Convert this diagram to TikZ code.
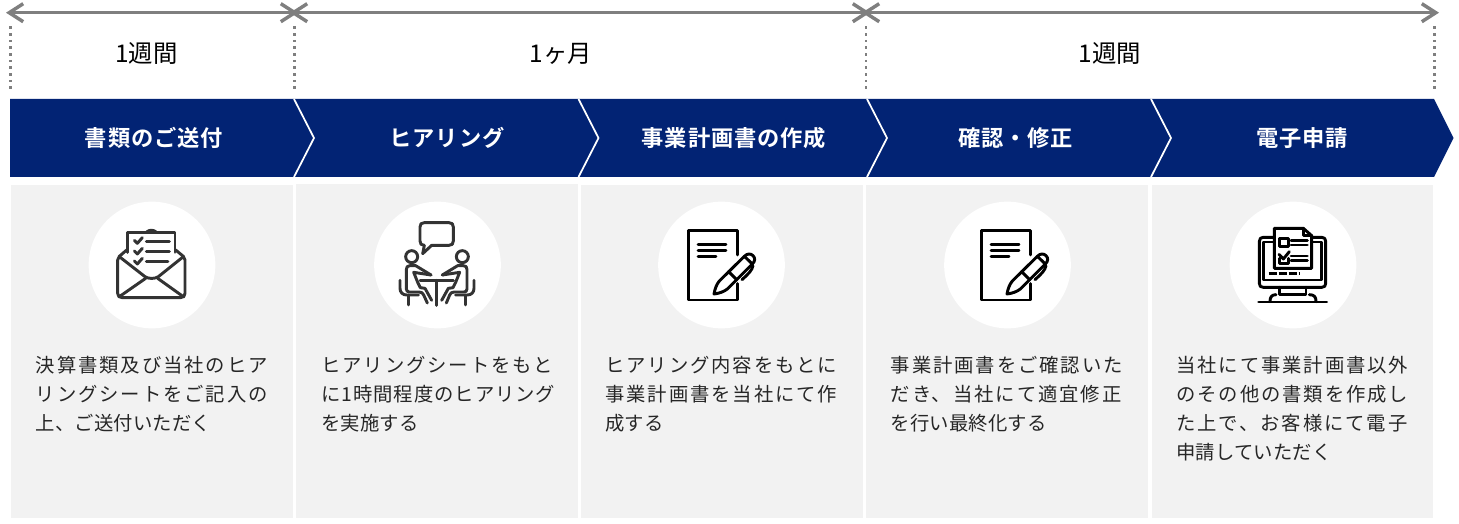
\documentclass[tikz,border=0pt]{standalone}
\usepackage{fontspec}
\usetikzlibrary{arrows.meta}
\setmainfont{Noto Sans CJK JP}
\newfontfamily\jpbody[LetterSpace=10]{Noto Sans CJK JP}
\newfontfamily\jptight[LetterSpace=5]{Noto Sans CJK JP}
\newfontfamily\jpplain[LetterSpace=1]{Noto Sans CJK JP}
\newfontfamily\jphead[LetterSpace=4]{Noto Sans CJK JP Bold}
\newfontfamily\jplabel{Noto Sans CJK JP}
\definecolor{navy}{HTML}{022374}
\definecolor{panelgray}{HTML}{F2F2F2}
\definecolor{timegray}{HTML}{7F7F7F}
\definecolor{iconink}{HTML}{333333}
\tikzset{
  timearrow/.style={draw=timegray,line width=2.6pt,{Straight Barb[length=10.5pt,width=13.5pt,line width=2.6pt]}-{Straight Barb[length=10.5pt,width=13.5pt,line width=2.6pt]}},
  timeend/.style={draw=timegray,line width=2pt,dash pattern=on 2pt off 3pt},
  panelbox/.style={fill=panelgray,draw=none},
  disc/.style={circle,fill=white,draw=none,minimum size=95pt,inner sep=0pt},
  chevline/.style={draw=white,line width=1.3pt},
  steptitle/.style={text=white,font=\jphead\fontsize{16.7pt}{20pt}\selectfont,inner sep=0pt},
  bodytext/.style={anchor=north west,align=left,inner sep=0pt,text=black!85,font=\jpbody\fontsize{14.5pt}{21.75pt}\selectfont},
  spanlabel/.style={text=black,font=\jplabel\fontsize{18.3pt}{20pt}\selectfont,inner sep=0pt},
  icon/.style={x=0.25pt,y=-0.25pt,line width=2.2pt,line cap=round,line join=round,draw=#1},
}
\begin{document}
\begin{tikzpicture}[x=0.75pt,y=-0.75pt]
\useasboundingbox (0,0) rectangle (1459,524);
% time arrows
\coordinate (a0) at (6,12.7);
\coordinate (a1) at (298,12.7);
\coordinate (a2) at (290,12.7);
\coordinate (a3) at (870,12.7);
\coordinate (a4) at (862,12.7);
\coordinate (a5) at (1439,12.7);
\draw[timearrow] (a0) -- (a1);
\draw[timearrow] (a2) -- (a3);
\draw[timearrow] (a4) -- (a5);
% dotted ticks
\foreach \n/\x in {0/10.5,1/294.5,2/866,3/1434.5}{
  \coordinate (d\n t) at (\x,26.5);
  \coordinate (d\n b) at (\x,89);
  \draw[timeend] (d\n t) -- (d\n b);
}
\node[spanlabel] (lab1) at (146.5,54) {1週間};
\node[spanlabel] (lab2) at (561,54) {1ヶ月};
\node[spanlabel] (lab3) at (1110,54) {1週間};
% band
\fill[navy] (10,99) -- (1434,99) -- (1453.5,138) -- (1434,177) -- (10,177) -- cycle;
\foreach \x in {294,578.5,867,1151}{
  \draw[chevline] (\x,99) -- (\x+20,138) -- (\x,177);
}
\node[steptitle] (s1) at (154,138) {書類のご送付};
\node[steptitle] (s2) at (447,138) {ヒアリング};
\node[steptitle] (s3) at (734,138) {事業計画書の作成};
\node[steptitle] (s4) at (1015.5,138) {確認・修正};
\node[steptitle] (s5) at (1302,138) {電子申請};
% panels
\fill[panelbox] (11,185) rectangle (293,518);
\fill[panelbox] (296,184) rectangle (578,518);
\fill[panelbox] (581,185) rectangle (863,518);
\fill[panelbox] (866,185) rectangle (1148,518);
\fill[panelbox] (1152,185) rectangle (1433,518);
\node[disc] (c1) at (152,265) {};
\node[disc] (c2) at (437.5,265) {};
\node[disc] (c3) at (721.5,265) {};
\node[disc] (c4) at (1007.5,265) {};
\node[disc] (c5) at (1293,265) {};
% icon 1: envelope
\begin{scope}[shift={(80,195)},icon=iconink]
\draw (143,172) -- (143,113) -- (285,113) -- (285,172);
\draw (200,111) .. controls (208,104) and (220,104) .. (228,111);
\draw (140,165) -- (118,184) .. controls (114,188) and (113,190) .. (113,195) -- (113,295) .. controls (113,304) and (118,308) .. (127,308) -- (301,308) .. controls (310,308) and (315,304) .. (315,295) -- (315,195) .. controls (315,190) and (314,188) .. (310,184) -- (287,165);
\draw (118,185) -- (195,245) .. controls (205,252) and (225,252) .. (235,245) -- (310,185);
\draw (118,305) -- (197,250);
\draw (310,305) -- (233,250);
\foreach \y in {138,170,200}{
  \draw (163,\y-2) -- (172,\y+7) -- (187,\y-10);
}
\draw (199,140) -- (268,140);
\draw (199,170) -- (268,170);
\draw (199,200) -- (264,200);
\end{scope}
% icon 2: meeting
\begin{scope}[shift={(365,195)},icon=iconink]
\draw (178,83) -- (252,83) .. controls (261,83) and (265,87) .. (265,96) -- (265,138) .. controls (265,147) and (261,151) .. (252,151) -- (200,151) -- (173,176) -- (178,151) .. controls (169,151) and (165,147) .. (165,138) -- (165,96) .. controls (165,87) and (169,83) .. (178,83) -- cycle;
\draw (140,185) circle[radius=18];
\draw (292,185) circle[radius=18];
\draw (165,256) -- (265,256);
\draw (215,256) -- (215,331);
\draw (198,240) -- (152,212) -- (135,212) .. controls (127,212) and (124,216) .. (124,224) -- (124,282) .. controls (124,288) and (128,291) .. (133,291) -- (162,291) .. controls (170,291) and (173,294) .. (176,300) -- (187,324);
\draw (198,240) -- (146,232) -- (158,262) -- (166,278) -- (180,280) -- (200,316);
\draw (105,256) -- (105,280) .. controls (105,292) and (113,300) .. (125,300) -- (160,300);
\draw (130,300) -- (130,330);
\draw (232,240) -- (278,212) -- (295,212) .. controls (303,212) and (306,216) .. (306,224) -- (306,282) .. controls (306,288) and (302,291) .. (297,291) -- (268,291) .. controls (260,291) and (257,294) .. (254,300) -- (244,324);
\draw (232,240) -- (284,232) -- (272,262) -- (264,278) -- (250,280) -- (230,316);
\draw (327,256) -- (327,280) .. controls (327,292) and (319,300) .. (307,300) -- (272,300);
\draw (302,300) -- (302,330);
\end{scope}
% icons 3 and 4: document and pen
\foreach \ox in {650,943}{
\begin{scope}[shift={(\ox,195)},icon=black]
\draw (263,180) -- (263,107) -- (115,107) -- (115,315) -- (263,315) -- (263,266);
\draw (144,148) -- (228,148);
\draw (144,167) -- (228,167);
\draw (144,185) -- (198,185);
\draw (192,297) .. controls (195,280) and (200,268) .. (208,258) -- (283,184) .. controls (292,175) and (302,175) .. (309,182) .. controls (316,189) and (316,198) .. (307,207) -- (232,282) .. controls (222,290) and (208,295) .. (192,297) -- cycle;
\draw (236,230) -- (260,254);
\draw (283,184) -- (307,207);
\draw (309,212) .. controls (306,226) and (296,236) .. (276,254);
\end{scope}
}
% icon 5: monitor
\begin{scope}[shift={(1220,195)},icon=black]
\draw (130,127) -- (305,127) .. controls (313,127) and (317,131) .. (317,139) -- (317,265) .. controls (317,273) and (313,277) .. (305,277) -- (130,277) .. controls (122,277) and (118,273) .. (118,265) -- (118,139) .. controls (118,131) and (122,127) .. (130,127) -- cycle;
\draw (130,255) -- (305,255) -- (305,141) -- (130,141) -- cycle;
\draw[fill=white] (163,100) -- (250,100) -- (275,122) -- (275,220) -- (163,220) -- cycle;
\draw (250,100) -- (250,122) -- (275,122);
\draw (178,130) rectangle (205,155);
\draw (213,137) -- (262,137);
\draw (213,150) -- (262,150);
\draw (177,178) -- (190,192) -- (208,170);
\draw (178,190) -- (178,205) -- (205,205) -- (205,190);
\draw (213,183) -- (262,183);
\draw (213,197) -- (262,197);
\draw[dash pattern=on 6pt off 1.5pt,line cap=butt] (146,236) -- (240,236);
\draw (178,277) -- (178,299) -- (258,299) -- (258,277);
\draw (150,320) .. controls (150,306) and (155,299) .. (168,299);
\draw (288,320) .. controls (288,306) and (283,299) .. (268,299);
\draw (116,321) -- (320,321);
\end{scope}
% body text
\node[bodytext] (b1) at (35.5,355.5) {決算書類及び当社のヒア\\リングシートをご記入の\\{\jpplain 上、ご送付いただく}};
\node[bodytext] (b2) at (321,355.5) {ヒアリングシートをもと\\{\jptight に1時間程度のヒアリング}\\{\jpplain を実施する}};
\node[bodytext] (b3) at (605,355.5) {ヒアリング内容をもとに\\事業計画書を当社にて作\\{\jpplain 成する}};
\node[bodytext] (b4) at (890.5,355.5) {事業計画書をご確認いた\\だき、当社にて適宜修正\\{\jpplain を行い最終化する}};
\node[bodytext] (b5) at (1176,355.5) {当社にて事業計画書以外\\のその他の書類を作成し\\た上で、お客様にて電子\\{\jpplain 申請していただく}};
\end{tikzpicture}
\end{document}
